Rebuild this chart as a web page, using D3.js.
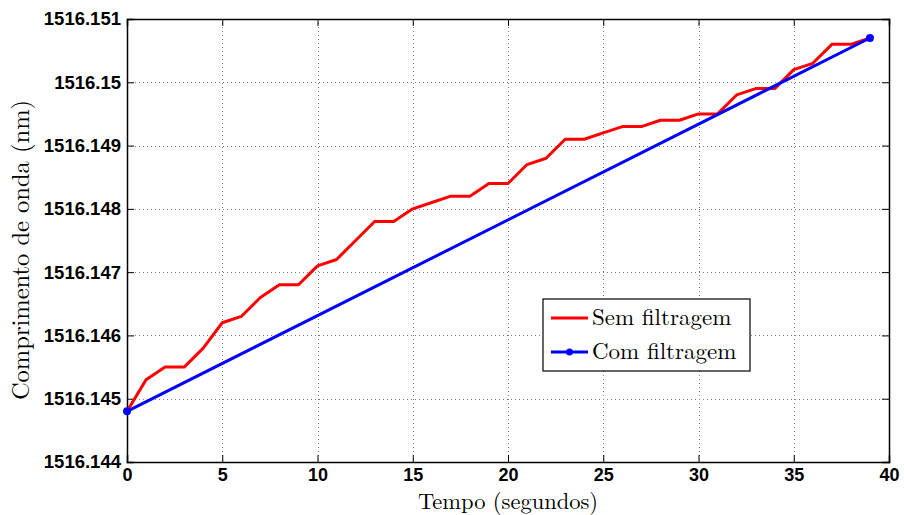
<!DOCTYPE html>
<html>
<head>
<meta charset="utf-8">
<script src="https://cdn.jsdelivr.net/npm/d3@7"></script>
<style>
  html, body { margin: 0; padding: 0; background: #fff; }
  svg { display: block; }
</style>
</head>
<body>
<svg id="chart" width="904" height="515"></svg>
<script>
// ---- data ----
const times = d3.range(0, 40);
const semFiltragem = [
  1516.1448, 1516.1453, 1516.1455, 1516.1455, 1516.1458, 1516.1462, 1516.1463, 1516.1466,
  1516.1468, 1516.1468, 1516.1471, 1516.1472, 1516.1475, 1516.1478, 1516.1478, 1516.1480,
  1516.1481, 1516.1482, 1516.1482, 1516.1484, 1516.1484, 1516.1487, 1516.1488, 1516.1491,
  1516.1491, 1516.1492, 1516.1493, 1516.1493, 1516.1494, 1516.1494, 1516.1495, 1516.1495,
  1516.1498, 1516.1499, 1516.1499, 1516.1502, 1516.1503, 1516.1506, 1516.1506, 1516.1507
];
const comTimes = [0, 39];
const comFiltragem = [1516.1448, 1516.1507];
const xTicks = [0, 5, 10, 15, 20, 25, 30, 35, 40];
const yTicks = [1516.144, 1516.145, 1516.146, 1516.147, 1516.148, 1516.149, 1516.150, 1516.151];
const yTickLabels = ["1516.144", "1516.145", "1516.146", "1516.147", "1516.148", "1516.149", "1516.15", "1516.151"];
const seriesNames = ["Sem filtragem", "Com filtragem"];
const xLabel = "Tempo (segundos)";
const yLabel = "Comprimento de onda (nm)";

// ---- layout ----
const L = 127, R = 889, T = 19, B = 462;
const svg = d3.select("#chart");
const x = d3.scaleLinear().domain([0, 40]).range([L, R]);
const y = d3.scaleLinear().domain([1516.144, 1516.151]).range([B, T]);

// grid
const grid = svg.append("g").attr("stroke", "#7f7f7f").attr("stroke-width", 1)
  .attr("stroke-dasharray", "1,3");
grid.selectAll(".gx").data(xTicks.filter(d => d > 0 && d < 40)).join("line")
  .attr("x1", d => Math.round(x(d)) + 0.5).attr("x2", d => Math.round(x(d)) + 0.5)
  .attr("y1", T).attr("y2", B);
grid.selectAll(".gy").data(yTicks.filter((d, i) => i > 0 && i < yTicks.length - 1)).join("line")
  .attr("y1", d => Math.round(y(d)) + 0.5).attr("y2", d => Math.round(y(d)) + 0.5)
  .attr("x1", L).attr("x2", R);

// axes
const fontTick = "bold 18.5px 'Liberation Sans', Arial, sans-serif";
const xAxis = d3.axisBottom(x).tickValues(xTicks).tickSize(-7).tickPadding(6.5).tickFormat(d3.format("d"));
const gx = svg.append("g").attr("transform", `translate(0,${B})`).call(xAxis);
const xAxisTop = d3.axisTop(x).tickValues(xTicks).tickSize(-7).tickFormat("");
svg.append("g").attr("transform", `translate(0,${T})`).call(xAxisTop);
const yAxis = d3.axisLeft(y).tickValues(yTicks).tickSize(-7).tickPadding(6)
  .tickFormat((d, i) => yTickLabels[i]);
svg.append("g").attr("transform", `translate(${L},0)`).call(yAxis);
const yAxisR = d3.axisRight(y).tickValues(yTicks).tickSize(-7).tickFormat("");
svg.append("g").attr("transform", `translate(${R},0)`).call(yAxisR);

svg.selectAll(".domain").attr("stroke", "#000").attr("stroke-width", 1.5);
svg.selectAll(".tick line").attr("stroke", "#000").attr("stroke-width", 1);
svg.selectAll(".tick text").style("font", fontTick).attr("fill", "#000");
gx.selectAll(".tick text").style("font-size", "18px");

// lines
const line = d3.line().x(d => x(d[0])).y(d => y(d[1]));
svg.append("path").datum(times.map((t, i) => [t, semFiltragem[i]]))
  .attr("d", line).attr("fill", "none").attr("stroke", "#ff0000")
  .attr("stroke-width", 3).attr("stroke-linejoin", "round");
const comData = comTimes.map((t, i) => [t, comFiltragem[i]]);
svg.append("path").datum(comData)
  .attr("d", line).attr("fill", "none").attr("stroke", "#0000ff")
  .attr("stroke-width", 3);
svg.selectAll(".dot").data(comData).join("circle")
  .attr("cx", d => x(d[0])).attr("cy", d => y(d[1])).attr("r", 4).attr("fill", "#0000ff");

// axis labels
const serif = "'Latin Modern Roman', 'DejaVu Serif', 'Liberation Serif', serif";
svg.append("text").attr("x", (L + R) / 2).attr("y", 509).attr("text-anchor", "middle")
  .style("font-family", serif).style("font-size", "22.5px").text(xLabel);
svg.append("text").attr("transform", `translate(29,250) rotate(-90)`)
  .attr("text-anchor", "middle").style("font-family", serif).style("font-size", "24.5px").text(yLabel);

// legend
const lg = svg.append("g");
lg.append("rect").attr("x", 543).attr("y", 299).attr("width", 207).attr("height", 72)
  .attr("fill", "#fff").attr("stroke", "#000").attr("stroke-width", 1.2);
const colors = ["#ff0000", "#0000ff"];
seriesNames.forEach((name, i) => {
  const yy = 318 + i * 34;
  lg.append("line").attr("x1", 551).attr("x2", 588).attr("y1", yy).attr("y2", yy)
    .attr("stroke", colors[i]).attr("stroke-width", 3);
  if (i === 1) lg.append("circle").attr("cx", 569.5).attr("cy", yy).attr("r", 3.5).attr("fill", colors[i]);
  lg.append("text").attr("x", 592).attr("y", yy + 7).style("font-family", serif)
    .style("font-size", "23px").text(name);
});
</script>
</body>
</html>
